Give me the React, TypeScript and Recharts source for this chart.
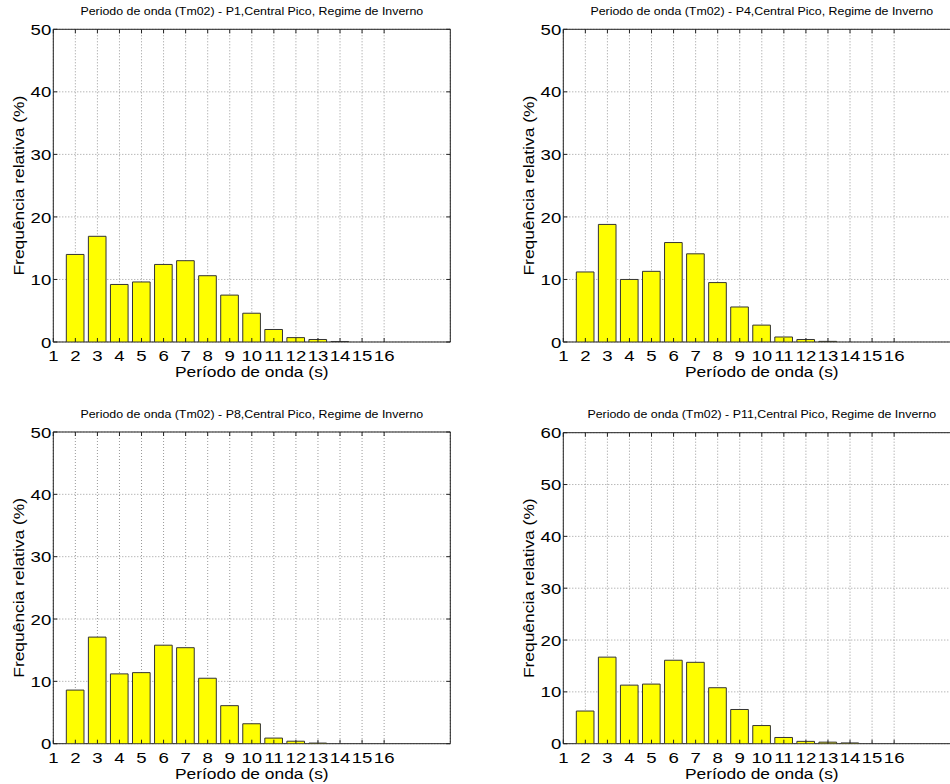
import { BarChart, Bar, XAxis, YAxis, CartesianGrid, ReferenceArea } from 'recharts'

// wave period classes (s)
const periods = [1, 2, 3, 4, 5, 6, 7, 8, 9, 10, 11, 12, 13, 14, 15, 16]

// relative frequency (%) per point
const freqP1 = [0, 14.0, 16.9, 9.2, 9.6, 12.4, 13.0, 10.6, 7.5, 4.6, 2.0, 0.7, 0.4, 0.08, 0, 0]
const freqP4 = [0, 11.2, 18.8, 10.0, 11.3, 15.9, 14.1, 9.5, 5.6, 2.7, 0.8, 0.4, 0.1, 0, 0, 0]
const freqP8 = [0, 8.6, 17.1, 11.2, 11.4, 15.8, 15.4, 10.5, 6.1, 3.2, 0.9, 0.4, 0.1, 0, 0, 0]
const freqP11 = [0, 6.3, 16.7, 11.3, 11.5, 16.1, 15.7, 10.8, 6.6, 3.5, 1.2, 0.45, 0.3, 0.15, 0, 0]

const xTicks = [1, 2, 3, 4, 5, 6, 7, 8, 9, 10, 11, 12, 13, 14, 15, 16]
const yTicks50 = [0, 10, 20, 30, 40, 50]
const yTicks60 = [0, 10, 20, 30, 40, 50, 60]

const titleP1 = 'Periodo de onda (Tm02) - P1,Central Pico, Regime de Inverno'
const titleP4 = 'Periodo de onda (Tm02) - P4,Central Pico, Regime de Inverno'
const titleP8 = 'Periodo de onda (Tm02) - P8,Central Pico, Regime de Inverno'
const titleP11 = 'Periodo de onda (Tm02) - P11,Central Pico, Regime de Inverno'
const xLabel = 'Período de onda (s)'
const yLabel = 'Frequência relativa (%)'

const FONT = '"Liberation Sans", Arial, Helvetica, sans-serif'
const SX = 1.2 // the original text is rendered wide
const X_MAX = 19
const PLOT_W = 397
const PANEL_H = 392

function WideText({ x, y, size, anchor = 'middle', rotate = 0, sx = SX, children }: any) {
  return (
    <text
      transform={`translate(${x},${y}) rotate(${rotate}) scale(${sx},1)`}
      fontSize={size}
      fontFamily={FONT}
      textAnchor={anchor}
      fill="#000"
    >
      {children}
    </text>
  )
}

function Panel({ left, top, plotLeft, plotTop, plotHeight, yMax, yTicks, freq, title }: any) {
  const plotBottom = plotTop + plotHeight
  const plotRight = plotLeft + PLOT_W
  const chartW = plotRight + 20
  const data = periods.map((p, i) => ({ period: p, freq: freq[i] }))
  const barSize = (PLOT_W / (X_MAX - 1)) * 0.8

  const xTick = (props: any) => {
    const { x, payload } = props
    return (
      <g>
        <line x1={x} x2={x} y1={plotBottom} y2={plotBottom - 4} stroke="#222" />
        <line x1={x} x2={x} y1={plotTop} y2={plotTop + 4} stroke="#222" />
        <WideText x={x} y={plotBottom + 19} size={15.5} sx={1.2}>{payload.value}</WideText>
      </g>
    )
  }

  const yTick = (props: any) => {
    const { y, payload } = props
    return (
      <g>
        <line x1={plotLeft} x2={plotLeft + 4} y1={y} y2={y} stroke="#222" />
        <line x1={plotRight} x2={plotRight - 4} y1={y} y2={y} stroke="#222" />
        <WideText x={plotLeft - 2} y={y + 5.6} size={15.5} sx={1.2} anchor="end">{payload.value}</WideText>
      </g>
    )
  }

  return (
    <div style={{ position: 'absolute', left, top, width: chartW, height: PANEL_H }}>
      <BarChart
        width={chartW}
        height={PANEL_H}
        data={data}
        margin={{ top: plotTop, right: 20, left: 0, bottom: 0 }}
      >
        <CartesianGrid stroke="#999" strokeDasharray="1 2" />
        <XAxis
          dataKey="period"
          type="number"
          domain={[1, X_MAX]}
          ticks={xTicks}
          interval={0}
          allowDataOverflow
          height={PANEL_H - plotBottom}
          tickLine={false}
          axisLine={false}
          tickSize={0}
          tick={xTick}
        />
        <YAxis
          type="number"
          domain={[0, yMax]}
          ticks={yTicks}
          interval={0}
          allowDataOverflow
          width={plotLeft}
          tickLine={false}
          axisLine={false}
          tickSize={0}
          tick={yTick}
        />
        <Bar
          dataKey="freq"
          fill="#ffff00"
          stroke="#333"
          strokeWidth={1}
          barSize={barSize}
          isAnimationActive={false}
        />
        <ReferenceArea x1={1} x2={X_MAX} y1={0} y2={yMax} fill="none" stroke="#222" strokeWidth={1} fillOpacity={0} />
      </BarChart>
      <svg
        width={chartW}
        height={PANEL_H}
        style={{ position: 'absolute', left: 0, top: 0, pointerEvents: 'none' }}
      >
        <WideText x={plotLeft + PLOT_W / 2} y={plotTop - 14.5} size={10} sx={1.24}>{title}</WideText>
        <WideText x={plotLeft + PLOT_W / 2} y={plotBottom + 35} size={14.5}>{xLabel}</WideText>
        <WideText x={plotLeft - 29} y={plotTop + plotHeight / 2} size={14.5} rotate={-90}>{yLabel}</WideText>
      </svg>
    </div>
  )
}

export default function App() {
  return (
    <div
      style={{
        position: 'absolute',
        left: 0,
        top: 0,
        width: 950,
        height: 784,
        overflow: 'hidden',
        background: '#fff',
      }}
    >
      <Panel left={0} top={0} plotLeft={53.3} plotTop={29.3} plotHeight={312.7} yMax={50} yTicks={yTicks50} freq={freqP1} title={titleP1} />
      <Panel left={475} top={0} plotLeft={88.3} plotTop={29.3} plotHeight={312.7} yMax={50} yTicks={yTicks50} freq={freqP4} title={titleP4} />
      <Panel left={0} top={392} plotLeft={53.3} plotTop={40} plotHeight={311.7} yMax={50} yTicks={yTicks50} freq={freqP8} title={titleP8} />
      <Panel left={475} top={392} plotLeft={88.3} plotTop={40.7} plotHeight={311} yMax={60} yTicks={yTicks60} freq={freqP11} title={titleP11} />
    </div>
  )
}
